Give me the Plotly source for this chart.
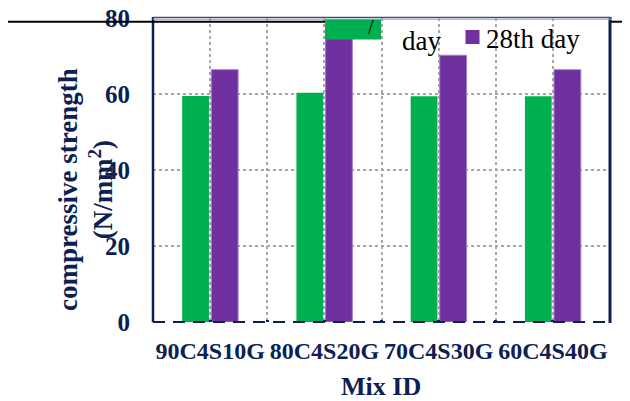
import plotly.graph_objects as go

categories = ["90C4S10G", "80C4S20G", "70C4S30G", "60C4S40G"]
day7 = [59.5, 60.3, 59.4, 59.4]
day28 = [66.4, 79.0, 70.2, 66.4]
y_ticks = [0, 20, 40, 60, 80]
series_names = ["7th day", "28th day"]

NAVY = "#0c2152"
GREEN = "#00b050"
PURPLE = "#7030a0"
GRID = "#a6a6a6"
FONT = "Liberation Serif"

# the page body adds an 8px offset, so the figure is drawn 8px smaller
OFF = 8
W, H = 630 - OFF, 401 - OFF
L, R, T, B = 153 - OFF, 20, 18 - OFF, 79
pw = W - L - R
ph = H - T - B

def px(x):
    return (x - OFF - L) / pw

def py(y):
    return (H - B - (y - OFF)) / ph

xs = list(range(len(categories)))

fig = go.Figure()
fig.add_trace(go.Bar(x=xs, y=day7, name=series_names[0], marker=dict(color=GREEN, line=dict(width=0)), showlegend=False))
fig.add_trace(go.Bar(x=xs, y=day28, name=series_names[1], marker=dict(color=PURPLE, line=dict(color="#a47fcb", width=1)), showlegend=False))

fig.update_layout(
    template="none",
    width=W, height=H,
    margin=dict(l=L, r=R, t=T, b=B, pad=0, autoexpand=False),
    paper_bgcolor="white", plot_bgcolor="white",
    barmode="group", bargap=0.49, bargroupgap=0.08,
    showlegend=False,
    font=dict(family=FONT, color=NAVY),
)
fig.update_xaxes(
    automargin=False,
    range=[-0.5, len(categories) - 0.5],
    tickmode="array", tickvals=xs, ticktext=categories,
    tickfont=dict(family=FONT, size=24, color=NAVY, weight="bold"),
    showgrid=True, gridcolor=GRID, griddash="dot", gridwidth=1.5,
    minor=dict(tickmode="linear", tick0=0, dtick=0.5, showgrid=True, gridcolor=GRID, griddash="dot", gridwidth=1.5,
               ticks="inside", ticklen=2, tickwidth=3, tickcolor=NAVY),
    ticks="inside", ticklen=2, tickwidth=3, tickcolor=NAVY,
    ticklabelstandoff=12, ticklabeloverflow="allow",
    showline=False, zeroline=False, fixedrange=True,
)
fig.update_yaxes(
    automargin=False,
    range=[0, 80],
    tickmode="array", tickvals=y_ticks, ticktext=[str(v) for v in y_ticks],
    tickfont=dict(family=FONT, size=25, color=NAVY, weight="bold"),
    showgrid=True, gridcolor=GRID, griddash="dot", gridwidth=1.5,
    ticks="", ticklabelstandoff=22, ticklabeloverflow="allow",
    showline=False, zeroline=False, fixedrange=True,
)

shapes = []
# plot frame
shapes.append(dict(type="line", xref="paper", yref="paper", x0=px(153), x1=px(153), y0=py(17), y1=py(322), line=dict(color=NAVY, width=2.5)))
shapes.append(dict(type="line", xref="paper", yref="paper", x0=px(610), x1=px(610), y0=py(17), y1=py(323), line=dict(color=NAVY, width=3)))
shapes.append(dict(type="line", xref="paper", yref="paper", x0=px(153), x1=px(611), y0=py(17.3), y1=py(17.3), line=dict(color="#3a4f78", width=1.2)))
shapes.append(dict(type="line", xref="paper", yref="paper", x0=px(153), x1=px(611), y0=py(19.2), y1=py(19.2), line=dict(color="#9aa3b5", width=1.2)))
shapes.append(dict(type="line", xref="paper", yref="paper", x0=px(153), x1=px(611), y0=py(322), y1=py(322), line=dict(color=NAVY, width=2, dash="12px,8px")))
# stray black rule across the top
shapes.append(dict(type="line", xref="paper", yref="paper", x0=px(8), x1=px(354), y0=py(21.7), y1=py(21.7), line=dict(color="black", width=2)))
shapes.append(dict(type="line", xref="paper", yref="paper", x0=px(611), x1=px(630), y0=py(21.7), y1=py(21.7), line=dict(color="black", width=2)))
# legend swatches
shapes.append(dict(type="rect", xref="paper", yref="paper", x0=px(325), x1=px(381), y0=py(19.5), y1=py(39.5), fillcolor=GREEN, line=dict(width=0), layer="above"))
shapes.append(dict(type="rect", xref="paper", yref="paper", x0=px(465.5), x1=px(479.5), y0=py(30), y1=py(44), fillcolor=PURPLE, line=dict(width=0), layer="above"))
fig.update_layout(shapes=shapes)

ann = []
ann.append(dict(text="/", xref="paper", yref="paper", x=px(371), y=py(27), showarrow=False, xanchor="center", yanchor="middle",
                font=dict(family=FONT, size=20, color="black")))
ann.append(dict(text="day", xref="paper", yref="paper", x=px(400), y=py(41), showarrow=False, xanchor="left", yanchor="middle",
                font=dict(family=FONT, size=27, color="black")))
ann.append(dict(text="28th day", xref="paper", yref="paper", x=px(484), y=py(39), showarrow=False, xanchor="left", yanchor="middle",
                font=dict(family=FONT, size=27, color="black")))
ann.append(dict(text="compressive strength<br>(N/mm<sup>2</sup>)", xref="paper", yref="paper", x=px(85), y=py(190), showarrow=False,
                xanchor="center", yanchor="middle", textangle=-90,
                font=dict(family=FONT, size=27, color=NAVY, weight="bold")))
ann.append(dict(text="Mix ID", xref="paper", yref="paper", x=px(381), y=py(386), showarrow=False, xanchor="center", yanchor="middle",
                font=dict(family=FONT, size=26, color=NAVY, weight="bold")))
fig.update_layout(annotations=ann)

fig.write_html("out.html")
